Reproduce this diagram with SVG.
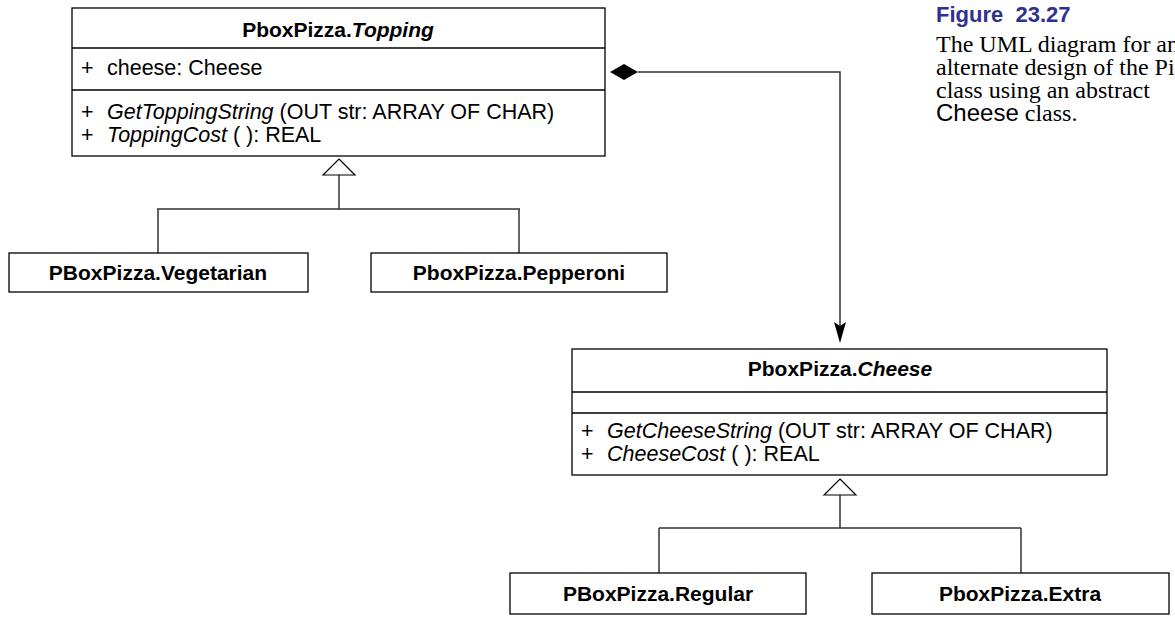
<svg xmlns="http://www.w3.org/2000/svg" width="1175" height="625" viewBox="0 0 1175 625">
  <style>
    .box { fill: #ffffff; stroke: #000000; stroke-width: 1.3; }
    .div { stroke: #000000; stroke-width: 1.3; }
    .t { font-family: "Liberation Sans", Arial, sans-serif; font-size: 21px; fill: #000000; }
    .m { font-family: "Liberation Sans", Arial, sans-serif; font-size: 21.5px; fill: #000000; }
    .b { font-weight: bold; }
    .i { font-style: italic; }
    .conn { fill: none; stroke: #333333; stroke-width: 1.5; }
    .gen { fill: #ffffff; stroke: #000000; stroke-width: 1.2; }
    .cap { font-family: "Liberation Serif", "Times New Roman", serif; font-size: 24px; fill: #000000; }
    .fig { font-family: "Liberation Sans", Arial, sans-serif; font-size: 22px; font-weight: bold; fill: #2e3192; }
  </style>

  <!-- connectors -->
  <g id="connectors">
    <!-- composition: Topping owns a Cheese -->
    <path class="conn" d="M638,72 H840 V326"/>
    <path d="M610,72 L624,64 L638,72 L624,80 Z" fill="#000000"/>
    <path d="M834,322 L840,326 L846,322 L840,343 Z" fill="#000000"/>
    <!-- Topping generalisation -->
    <path class="conn" d="M339,175 V209 M157,209 H520 M158,209 V253 M519,209 V253"/>
    <path class="gen" d="M339,159 L355,175 L323,175 Z"/>
    <!-- Cheese generalisation -->
    <path class="conn" d="M840,495 V528 M659,528 H1021 M659,528 V573 M1021,528 V573"/>
    <path class="gen" d="M840,479 L856,495 L824,495 Z"/>
  </g>

  <!-- abstract class Topping -->
  <g id="topping">
    <rect class="box" x="72" y="8" width="533" height="148"/>
    <line class="div" x1="72" y1="48" x2="605" y2="48"/>
    <line class="div" x1="72" y1="90" x2="605" y2="90"/>
    <text class="t b" x="338" y="37" text-anchor="middle">PboxPizza.<tspan class="i">Topping</tspan></text>
    <text class="m" x="81" y="75">+<tspan x="107">cheese: Cheese</tspan></text>
    <text class="m" x="81" y="119">+<tspan x="107" class="i">GetToppingString</tspan> (OUT str: ARRAY OF CHAR)</text>
    <text class="m" x="81" y="142">+<tspan x="107" class="i">ToppingCost</tspan> ( ): REAL</text>
  </g>

  <g id="vegetarian">
    <rect class="box" x="9" y="253" width="299" height="39"/>
    <text class="t b" x="158" y="280" text-anchor="middle">PBoxPizza.Vegetarian</text>
  </g>

  <g id="pepperoni">
    <rect class="box" x="371" y="253" width="296" height="39"/>
    <text class="t b" x="519" y="280" text-anchor="middle">PboxPizza.Pepperoni</text>
  </g>

  <!-- abstract class Cheese -->
  <g id="cheese">
    <rect class="box" x="572" y="349" width="535" height="126"/>
    <line class="div" x1="572" y1="392" x2="1107" y2="392"/>
    <line class="div" x1="572" y1="413" x2="1107" y2="413"/>
    <text class="t b" x="840" y="376" text-anchor="middle">PboxPizza.<tspan class="i">Cheese</tspan></text>
    <text class="m" x="581" y="438">+<tspan x="607" class="i">GetCheeseString</tspan> (OUT str: ARRAY OF CHAR)</text>
    <text class="m" x="581" y="461">+<tspan x="607" class="i">CheeseCost</tspan> ( ): REAL</text>
  </g>

  <g id="regular">
    <rect class="box" x="510" y="573" width="296" height="41"/>
    <text class="t b" x="658" y="601" text-anchor="middle">PBoxPizza.Regular</text>
  </g>

  <g id="extra">
    <rect class="box" x="872" y="573" width="297" height="41"/>
    <text class="t b" x="1020" y="601" text-anchor="middle">PboxPizza.Extra</text>
  </g>

  <!-- figure caption -->
  <g id="caption">
    <text class="fig" x="936" y="22" xml:space="preserve">Figure  23.27</text>
    <text class="cap" x="936" y="52">The UML diagram for an</text>
    <text class="cap" x="936" y="75">alternate design of the Pizza</text>
    <text class="cap" x="936" y="98">class using an abstract</text>
    <text class="cap" x="936" y="121"><tspan font-family="Liberation Sans, Arial, sans-serif">Cheese</tspan> class.</text>
  </g>
</svg>
